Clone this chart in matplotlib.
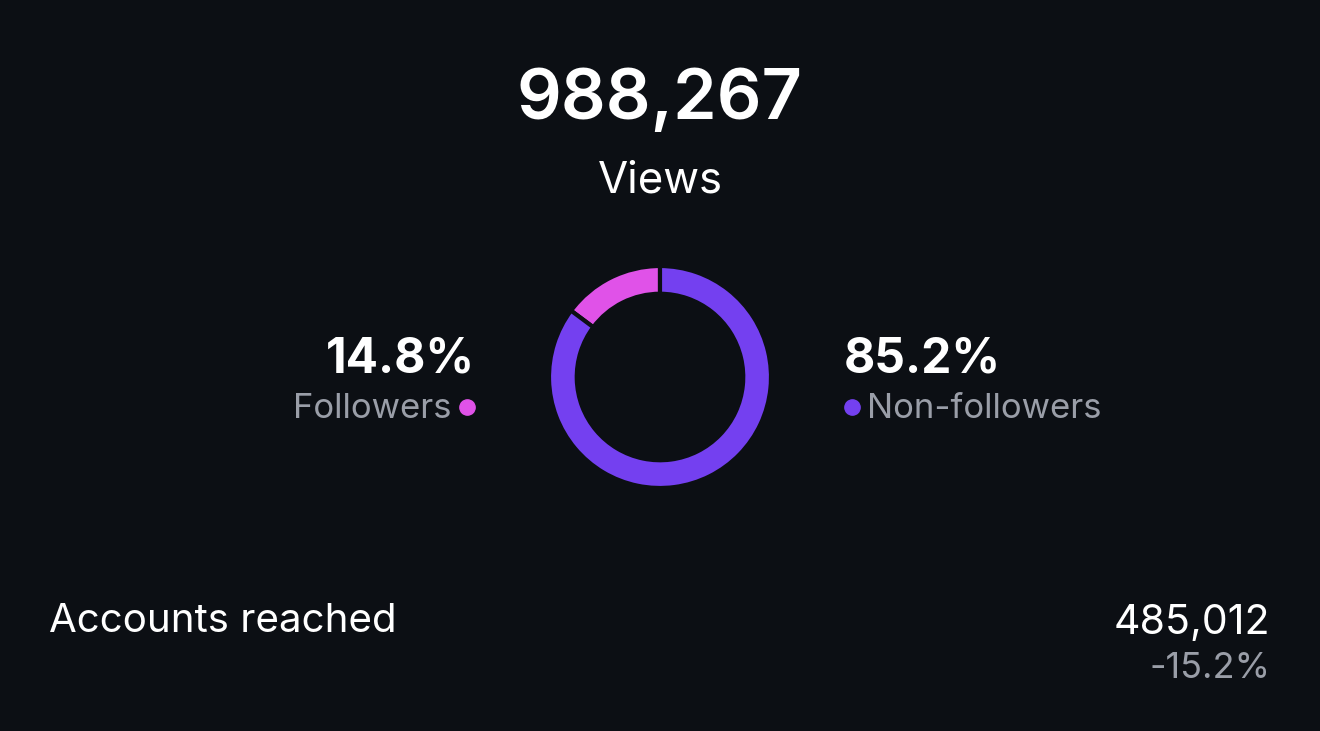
import matplotlib.pyplot as plt

# data
total_views = "988,267"
segment_labels = ["Followers", "Non-followers"]
segment_shares = [14.8, 85.2]
segment_colors = ["#e052e8", "#7440f0"]
reach_label = "Accounts reached"
reach_value = "485,012"
reach_change = "-15.2%"

BG = "#0c0f14"
GRAY = "#9a9ea8"
W, H = 1320, 731

plt.rcParams["font.family"] = ["Inter", "DejaVu Sans"]

fig = plt.figure(figsize=(W / 100, H / 100), dpi=100, facecolor=BG)


def fx(px):
    return px / W


def fy(py):
    return 1 - py / H


# donut placed by pixel centre/radius
cx, cy, r = 660, 377, 111
ax = fig.add_axes([fx(cx - r), fy(cy + r), 2 * r / W, 2 * r / H])
ax.set_facecolor(BG)
ax.pie(segment_shares, colors=segment_colors, startangle=90, counterclock=True,
       radius=1.0, wedgeprops=dict(width=0.25, edgecolor=BG, linewidth=3))
ax.set_xlim(-1, 1)
ax.set_ylim(-1, 1)
ax.set_aspect("equal")
ax.axis("off")

# header
fig.text(0.5, fy(100), total_views, color="white", fontsize=50.5, fontweight="semibold",
         ha="center", va="center")
fig.text(0.5, fy(181), "Views", color="white", fontsize=31.5, ha="center", va="center")

# left label
fig.text(fx(475), fy(359), f"{segment_shares[0]}%", color="white", fontsize=34.5,
         fontweight="bold", ha="right", va="center")
fig.text(fx(451), fy(409), segment_labels[0], color=GRAY, fontsize=25,
         ha="right", va="center")
fig.lines.append(plt.Line2D([fx(467)], [fy(407)], marker="o", markersize=11,
                            color=segment_colors[0], transform=fig.transFigure))

# right label
fig.text(fx(844), fy(359), f"{segment_shares[1]}%", color="white", fontsize=34.5,
         fontweight="bold", ha="left", va="center")
fig.text(fx(867), fy(409), segment_labels[1], color=GRAY, fontsize=25,
         ha="left", va="center")
fig.lines.append(plt.Line2D([fx(852)], [fy(407)], marker="o", markersize=11,
                            color=segment_colors[1], transform=fig.transFigure))

# footer
fig.text(fx(49), fy(622), reach_label, color="white", fontsize=29,
         ha="left", va="center")
fig.text(fx(1270), fy(623), reach_value, color="white", fontsize=29.5,
         ha="right", va="center")
fig.text(fx(1270), fy(668), reach_change, color=GRAY, fontsize=26,
         ha="right", va="center")

fig.savefig("out.png", dpi=100, facecolor=BG)
